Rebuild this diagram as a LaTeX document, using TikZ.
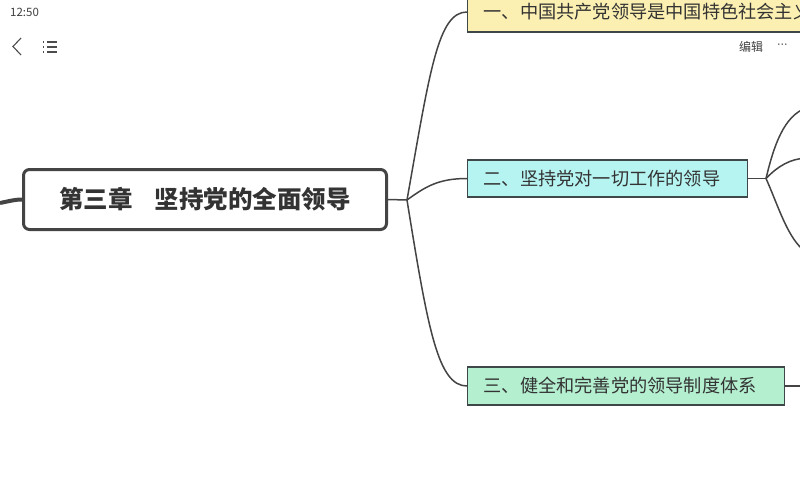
\documentclass[tikz,border=0pt]{standalone}
\usepackage{fontspec}
\setmainfont{Noto Sans CJK SC}
\newfontfamily\cjk{Noto Sans CJK SC}
\newfontfamily\dotfont{DejaVu Sans}
\definecolor{linec}{HTML}{444444}
\definecolor{bordc}{HTML}{3E4848}
\definecolor{yelf}{HTML}{FBF0B2}
\definecolor{cyaf}{HTML}{B6F4F2}
\definecolor{grnf}{HTML}{B4EFD0}
\definecolor{txtc}{HTML}{333333}
\tikzset{
  rootbox/.style={draw=linec, line width=3pt, rounded corners=6pt, fill=white,
    minimum width=363pt, minimum height=60pt, inner sep=0pt, text=txtc,
    font=\cjk\fontsize{24.5}{27}\selectfont\bfseries},
  subbox/.style={draw=bordc, line width=1.4pt, inner xsep=16pt, inner ysep=0pt,
    anchor=west, align=left, text=txtc, font=\cjk\fontsize{18.2}{20}\selectfont},
  conn/.style={draw=linec, line width=1.5pt},
  uitext/.style={text=black!75, inner sep=0pt}
}
\begin{document}
\begin{tikzpicture}[x=1pt,y=-1pt]
\clip (0,0) rectangle (800,500);
\fill[white] (0,0) rectangle (800,500);

% status / toolbar
\node[uitext, anchor=west, font=\cjk\fontsize{11.5}{12}\selectfont] (clock) at (10,12) {12:50};
\draw[black!70, line width=1.1pt] (21,38) -- (13,46.5) -- (21,55);
\foreach \yy in {42,47,52}{
  \fill[black!70] (42.5,\yy-0.6) rectangle (44.3,\yy+0.6);
  \fill[black!70] (46.5,\yy-0.6) rectangle (57,\yy+0.6);
}
\node[uitext, anchor=west, font=\cjk\fontsize{12}{13}\selectfont] (edit) at (739,47) {编辑};
\node[uitext, anchor=west, font=\dotfont\fontsize{11}{12}\selectfont] (more) at (777,46) {···};

% root
\node[rootbox] (root) at (205,199.5) {第三章\hspace{0.9em}坚持党的全面领导};
\coordinate (lstart) at (0,203);
\draw[draw=linec, line width=4pt] (lstart) .. controls (10,201) and (15,199.5) .. (root.west);

% children
\node[subbox, fill=yelf, minimum height=40pt, text width=400pt] (n1) at (467,12)
  {一、中国共产党领导是中国特色社会主义};
\node[subbox, fill=cyaf, minimum height=37pt, text width=248pt] (n2) at (467,178.5)
  {二、坚持党对一切工作的领导};
\node[subbox, fill=grnf, minimum height=38pt, text width=285pt] (n3) at (467,386)
  {三、健全和完善党的领导制度体系};

\coordinate (j1) at (407,200);
\draw[conn] (root.east) -- (j1);
\draw[conn] (j1) .. controls (430,70) and (438,12) .. (n1.west);
\draw[conn] (j1) .. controls (425,187) and (438,178.5) .. (n2.west);
\draw[conn] (j1) .. controls (428,330) and (438,386) .. (n3.west);

% grandchildren stubs
\coordinate (j2) at (766,178.5);
\coordinate (g1) at (806,108);
\coordinate (g2) at (806,158);
\coordinate (g3) at (806,252);
\coordinate (g4) at (801,386);
\draw[conn] (n2.east) -- (j2);
\draw[conn] (j2) .. controls (774,145) and (784,116) .. (g1);
\draw[conn] (j2) .. controls (778,166) and (790,159) .. (g2);
\draw[conn] (j2) .. controls (778,205) and (788,240) .. (g3);
\draw[conn] (n3.east) -- (g4);
\end{tikzpicture}
\end{document}
